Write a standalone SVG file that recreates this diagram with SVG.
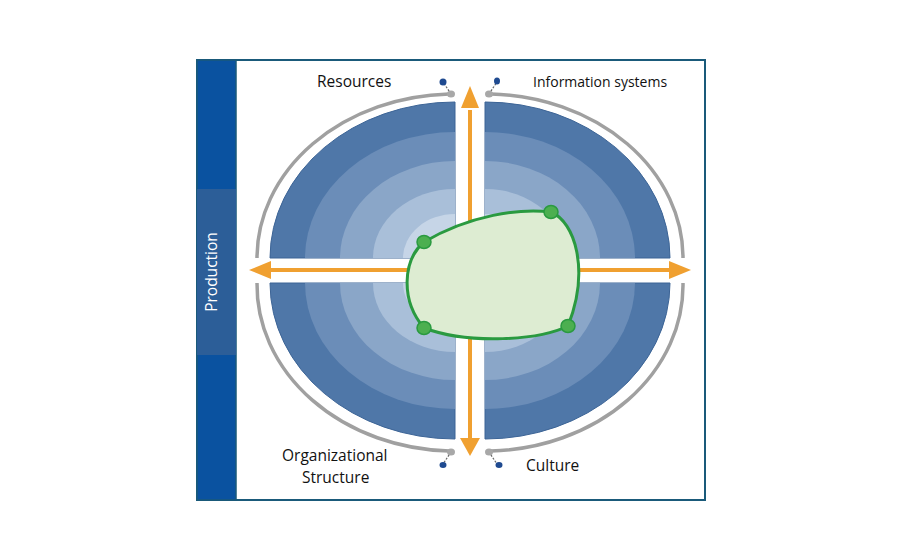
<svg xmlns="http://www.w3.org/2000/svg" width="900" height="550" viewBox="0 0 900 550">
<defs>
<style>
.lbl{font-family:"Open Sans","Liberation Sans",sans-serif;font-size:15.5px;fill:#111}
.arc{fill:none;stroke:#a0a0a0;stroke-width:3.5}
.g{fill:#a8a8a8}
.b{fill:#1f4a90}
.ln{stroke:#666;stroke-width:1.2;stroke-dasharray:2 1.5}
.ar{stroke:#f0a030;stroke-width:4;fill:none}
.ah{fill:#f0a030}
.dot{fill:#4caf50;stroke:#2a9a40;stroke-width:1.5}
.r1{fill:#4f77a8;stroke:#3c6496;stroke-width:1}
.r2{fill:#6b8db8}
.r3{fill:#8aa6c8}
.r4{fill:#a9bfd9}
.r5{fill:#c6d5e7}
</style>
</defs>
<rect width="900" height="550" fill="#fff"/>
<g id="frame">
<rect x="197" y="60" width="508" height="440" fill="#fff" stroke="#1a5a7a" stroke-width="2"/>
<rect x="197" y="60" width="39" height="440" fill="#0a52a0" stroke="#1a5a7a" stroke-width="1.5"/>
<rect x="197" y="189" width="39" height="166" fill="#2c5e98"/>
<text x="222" y="272" class="lbl" style="fill:#fff" text-anchor="middle" transform="rotate(-90 222 272) translate(0 -5)">Production</text>
</g>
<g id="quadrants">
<g id="q-tl">
<path class="r1" d="M455 258 L270 258 A185 156 0 0 1 455 102 Z"/>
<path class="r2" d="M455 258 L305 258 A150 126 0 0 1 455 132 Z"/>
<path class="r3" d="M455 258 L340 258 A115 97 0 0 1 455 161 Z"/>
<path class="r4" d="M455 258 L373 258 A82 69 0 0 1 455 189 Z"/>
<path class="r5" d="M455 258 L403 258 A52 44 0 0 1 455 214 Z"/>
</g>
<g id="q-tr">
<path class="r1" d="M485 258 L670 258 A185 156 0 0 0 485 102 Z"/>
<path class="r2" d="M485 258 L635 258 A150 126 0 0 0 485 132 Z"/>
<path class="r3" d="M485 258 L600 258 A115 97 0 0 0 485 161 Z"/>
<path class="r4" d="M485 258 L567 258 A82 69 0 0 0 485 189 Z"/>
<path class="r5" d="M485 258 L537 258 A52 44 0 0 0 485 214 Z"/>
</g>
<g id="q-bl">
<path class="r1" d="M455 283 L270 283 A185 156 0 0 0 455 439 Z"/>
<path class="r2" d="M455 283 L305 283 A150 126 0 0 0 455 409 Z"/>
<path class="r3" d="M455 283 L340 283 A115 97 0 0 0 455 380 Z"/>
<path class="r4" d="M455 283 L373 283 A82 69 0 0 0 455 352 Z"/>
<path class="r5" d="M455 283 L403 283 A52 44 0 0 0 455 327 Z"/>
</g>
<g id="q-br">
<path class="r1" d="M485 283 L670 283 A185 156 0 0 1 485 439 Z"/>
<path class="r2" d="M485 283 L635 283 A150 126 0 0 1 485 409 Z"/>
<path class="r3" d="M485 283 L600 283 A115 97 0 0 1 485 380 Z"/>
<path class="r4" d="M485 283 L567 283 A82 69 0 0 1 485 352 Z"/>
<path class="r5" d="M485 283 L537 283 A52 44 0 0 1 485 327 Z"/>
</g>
</g>
<g id="arcs">
<path class="arc" d="M449 94 A198 164 0 0 0 257 258"/>
<path class="arc" d="M491 94 A198 164 0 0 1 683 258"/>
<path class="arc" d="M257 283 A198 166 0 0 0 449 451"/>
<path class="arc" d="M683 283 A198 166 0 0 1 491 451"/>
<line class="ln" x1="451" y1="94" x2="443" y2="82"/><line class="ln" x1="489" y1="94" x2="497" y2="82"/>
<line class="ln" x1="451" y1="452" x2="443" y2="464"/><line class="ln" x1="489" y1="452" x2="497" y2="464"/>
<ellipse class="g" cx="451" cy="94" rx="4" ry="3.5"/><ellipse class="g" cx="489" cy="94" rx="4" ry="3.5"/>
<ellipse class="g" cx="451" cy="452" rx="4" ry="3.5"/><ellipse class="g" cx="489" cy="452" rx="4" ry="3.5"/>
<ellipse class="b" cx="443" cy="82" rx="3.5" ry="3.5"/><ellipse class="b" cx="497" cy="81" rx="3" ry="3.5"/>
<ellipse class="b" cx="443" cy="465" rx="3.5" ry="3"/><ellipse class="b" cx="499" cy="465" rx="3.5" ry="3"/>
</g>
<g id="connectors">
<line class="ar" x1="470" y1="110" x2="470" y2="440"/>
<line class="ar" x1="268" y1="270" x2="675" y2="270"/>
<polygon class="ah" points="470,86 461,108 479,108"/>
<polygon class="ah" points="470,456 460,438 480,438"/>
<polygon class="ah" points="249,270 271,261 271,279"/>
<polygon class="ah" points="691,270 669,261 669,279"/>
</g>
<g id="core">
<path d="M424 242 C470 215 520 208 551 212 C575 222 590 270 568 326 C540 340 470 345 424 328 C400 300 403 260 424 242 Z" fill="#ddecd2" stroke="#2a9a40" stroke-width="3"/>
<ellipse class="dot" cx="424" cy="242" rx="7" ry="6.5"/>
<ellipse class="dot" cx="551" cy="212" rx="7" ry="6.5"/>
<ellipse class="dot" cx="424" cy="328" rx="7" ry="6.5"/>
<ellipse class="dot" cx="568" cy="326" rx="7" ry="6.5"/>
</g>
<g id="labels">
<text class="lbl" x="317" y="87">Resources</text>
<text class="lbl" x="533" y="87" style="font-size:14px">Information systems</text>
<text class="lbl" x="282" y="461">Organizational</text>
<text class="lbl" x="302" y="483">Structure</text>
<text class="lbl" x="526" y="471">Culture</text>
</g>
</svg>
